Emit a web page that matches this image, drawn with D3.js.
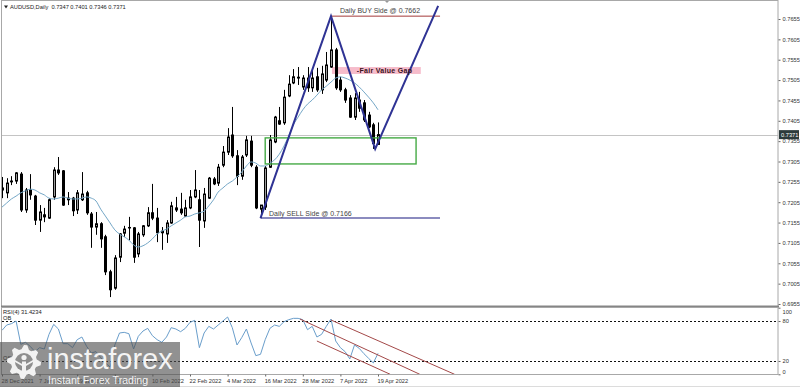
<!DOCTYPE html>
<html>
<head>
<meta charset="utf-8">
<script src="https://cdn.jsdelivr.net/npm/d3@7"></script>
<style>
  body { margin: 0; background: #fff; }
  svg { display: block; }
  text { font-family: "Liberation Sans", Arial, sans-serif; }
</style>
</head>
<body>
<div id="chart"></div>
<script>
// AUDUSD daily candles, 28 Dec 2021 .. 19 Apr 2022
let opens = [0.7240, 0.7228, 0.7257, 0.7257, 0.7274, 0.7186, 0.7235, 0.7220, 0.7161, 0.7174,
  0.7166, 0.7218, 0.7284, 0.7282, 0.7211, 0.7215, 0.7186, 0.7211, 0.7228, 0.7176,
  0.7144, 0.7152, 0.7120, 0.7034, 0.6994, 0.7070, 0.7129, 0.7142, 0.7142, 0.7078,
  0.7125, 0.7147, 0.7179, 0.7166, 0.7134, 0.7127, 0.7154, 0.7191, 0.7188, 0.7171,
  0.7191, 0.7218, 0.7211, 0.7159, 0.7215, 0.7262, 0.7252, 0.7296, 0.7328, 0.7370,
  0.7319, 0.7269, 0.7321, 0.7355, 0.7291, 0.7188, 0.7193, 0.7291, 0.7353, 0.7405,
  0.7400, 0.7466, 0.7498, 0.7510, 0.7488, 0.7510, 0.7486, 0.7513, 0.7481, 0.7505,
  0.7537, 0.7579, 0.7505, 0.7481, 0.7461, 0.7414, 0.7456, 0.7449, 0.7419, 0.7395,
  0.7347]
let highs = [0.7267, 0.7264, 0.7269, 0.7279, 0.7279, 0.7240, 0.7274, 0.7223, 0.7198, 0.7191,
  0.7215, 0.7291, 0.7316, 0.7284, 0.7230, 0.7218, 0.7235, 0.7279, 0.7233, 0.7181,
  0.7181, 0.7156, 0.7125, 0.7039, 0.7075, 0.7129, 0.7147, 0.7169, 0.7144, 0.7132,
  0.7149, 0.7193, 0.7250, 0.7191, 0.7144, 0.7161, 0.7206, 0.7218, 0.7228, 0.7211,
  0.7235, 0.7284, 0.7235, 0.7240, 0.7267, 0.7267, 0.7299, 0.7343, 0.7387, 0.7439,
  0.7333, 0.7321, 0.7368, 0.7368, 0.7296, 0.7198, 0.7294, 0.7370, 0.7417, 0.7439,
  0.7481, 0.7517, 0.7532, 0.7537, 0.7517, 0.7537, 0.7530, 0.7535, 0.7540, 0.7574,
  0.7662, 0.7584, 0.7513, 0.7486, 0.7468, 0.7473, 0.7476, 0.7456, 0.7427, 0.7400,
  0.7401]
let lows = [0.7215, 0.7215, 0.7247, 0.7250, 0.7181, 0.7179, 0.7211, 0.7149, 0.7132, 0.7156,
  0.7164, 0.7211, 0.7272, 0.7196, 0.7198, 0.7171, 0.7176, 0.7208, 0.7174, 0.7093,
  0.7125, 0.7093, 0.7026, 0.6972, 0.6990, 0.7058, 0.7120, 0.7112, 0.7056, 0.7070,
  0.7120, 0.7144, 0.7161, 0.7107, 0.7088, 0.7105, 0.7152, 0.7181, 0.7174, 0.7169,
  0.7188, 0.7215, 0.7095, 0.7142, 0.7213, 0.7247, 0.7245, 0.7291, 0.7321, 0.7314,
  0.7247, 0.7260, 0.7316, 0.7291, 0.7188, 0.7166, 0.7186, 0.7289, 0.7350, 0.7395,
  0.7395, 0.7463, 0.7495, 0.7493, 0.7481, 0.7476, 0.7476, 0.7476, 0.7471, 0.7500,
  0.7535, 0.7481, 0.7476, 0.7449, 0.7412, 0.7407, 0.7427, 0.7402, 0.7387, 0.7336,
  0.7346]
let closes = [0.7235, 0.7252, 0.7255, 0.7277, 0.7186, 0.7235, 0.7223, 0.7161, 0.7181, 0.7169,
  0.7211, 0.7284, 0.7277, 0.7198, 0.7215, 0.7184, 0.7228, 0.7225, 0.7179, 0.7144,
  0.7152, 0.7115, 0.7034, 0.6990, 0.7068, 0.7127, 0.7139, 0.7143, 0.7070, 0.7127,
  0.7147, 0.7179, 0.7166, 0.7130, 0.7130, 0.7154, 0.7196, 0.7186, 0.7179, 0.7191,
  0.7218, 0.7235, 0.7161, 0.7225, 0.7264, 0.7250, 0.7291, 0.7328, 0.7365, 0.7319,
  0.7269, 0.7316, 0.7358, 0.7296, 0.7191, 0.7198, 0.7289, 0.7358, 0.7414, 0.7397,
  0.7463, 0.7495, 0.7513, 0.7512, 0.7510, 0.7486, 0.7510, 0.7481, 0.7520, 0.7542,
  0.7579, 0.7486, 0.7481, 0.7456, 0.7414, 0.7461, 0.7436, 0.7407, 0.7390, 0.7349,
  0.7371]

// moving average line, one value per bar
let maValues = [0.7193, 0.7203, 0.7213, 0.7220, 0.7228, 0.7233, 0.7237, 0.7235, 0.7228, 0.7223,
  0.7215, 0.7213, 0.7215, 0.7218, 0.7215, 0.7213, 0.7213, 0.7215, 0.7218, 0.7215,
  0.7208, 0.7188, 0.7171, 0.7154, 0.7137, 0.7127, 0.7120, 0.7112, 0.7100, 0.7095,
  0.7098, 0.7105, 0.7115, 0.7127, 0.7134, 0.7139, 0.7147, 0.7154, 0.7161, 0.7169,
  0.7171, 0.7176, 0.7179, 0.7183, 0.7196, 0.7211, 0.7230, 0.7240, 0.7250, 0.7257,
  0.7267, 0.7279, 0.7294, 0.7304, 0.7301, 0.7294, 0.7294, 0.7301, 0.7309, 0.7323,
  0.7343, 0.7368, 0.7395, 0.7414, 0.7432, 0.7446, 0.7456, 0.7468, 0.7481, 0.7490,
  0.7500, 0.7510, 0.7513, 0.7510, 0.7505, 0.7498, 0.7488, 0.7476, 0.7463, 0.7449,
  0.7432]

// RSI, one value per bar
let rsiValues = [66, 74, 76, 80, 45, 48, 42, 34, 40, 38,
  60, 75, 68, 46, 46, 40, 52, 56, 42, 32,
  34, 25, 17, 11, 44, 62, 63, 61, 38, 57,
  65, 69, 58, 52, 48, 56, 70, 68, 64, 69,
  78, 81, 40, 62, 72, 68, 74, 80, 86, 70,
  44, 55, 68, 47, 28, 30, 52, 69, 74, 72,
  79, 82, 84, 84, 82, 67, 72, 56, 60, 72,
  83, 50, 40, 34, 23, 44, 39, 31, 24, 17,
  31.4234]

let priceTicks = [0.6955, 0.7005, 0.7055, 0.7105, 0.7155, 0.7205, 0.7255, 0.7305,
  0.7355, 0.7405, 0.7455, 0.7505, 0.7555, 0.7605, 0.7655]
let rsiTicks = [100, 80, 20, 0]
let dateTickIdx = [0, 8, 16, 24, 32, 40, 48, 56, 64, 72, 80]
let dateLabels = ['28 Dec 2021', '7 Jan 2022', '19 Jan 2022', '31 Jan 2022', '10 Feb 2022',
  '22 Feb 2022', '4 Mar 2022', '16 Mar 2022', '28 Mar 2022', '7 Apr 2022', '19 Apr 2022']

// drawn objects: [bar index, price]
let zigzag = [[55, 0.7166], [70, 0.7662], [79.4, 0.7336], [92.8, 0.7687]]
let buyLevel = 0.7662
let sellLevel = 0.7166
let levelEnd = 93.2
let fvgBox = { from: 70.2, to: 89.1, top: 0.7537, bottom: 0.7520 }
let zoneBox = { from: 56, to: 88.1, top: 0.7363, bottom: 0.7299 }
// RSI channel lines: [[idx, rsi], [idx, rsi]]
let channels = [
  [[63.4, 83], [88.9, 0]],
  [[70, 81.5], [96.3, 0]],
  [[67, 50], [82.6, 0]]
]
let lastPrice = 0.7371

let width = 800
let height = 387
let paneRight = 778

let svg = d3.select('#chart').append('svg')
  .attr('width', width)
  .attr('height', height)

let x = d3.scaleLinear().domain([0, 80]).range([2, 378])
let y = d3.scaleLinear().domain([0.6955, 0.7655]).range([304, 19])
let yRsi = d3.scaleLinear().domain([0, 100]).range([374.3, 307.7])

let px = i => Math.round(x(i)) + 0.5

svg.append('defs').append('clipPath').attr('id', 'main-clip')
  .append('rect').attr('x', 2).attr('y', 1).attr('width', paneRight - 2).attr('height', 305)
svg.select('defs').append('clipPath').attr('id', 'rsi-clip')
  .append('rect').attr('x', 2).attr('y', 308).attr('width', paneRight - 2).attr('height', 66)

let main = svg.append('g').attr('clip-path', 'url(#main-clip)')

// current price line
main.append('line')
  .attr('x1', 0).attr('x2', paneRight)
  .attr('y1', Math.round(y(lastPrice)) + 0.5).attr('y2', Math.round(y(lastPrice)) + 0.5)
  .attr('stroke', '#c4c4c4')

// fair value gap
main.append('rect')
  .attr('x', x(fvgBox.from)).attr('width', x(fvgBox.to) - x(fvgBox.from))
  .attr('y', y(fvgBox.top)).attr('height', y(fvgBox.bottom) - y(fvgBox.top))
  .attr('fill', '#f6bccb')

// candles
let bars = d3.range(opens.length)
main.selectAll('.wick')
  .data(bars)
  .enter()
  .append('line')
  .attr('class', 'wick')
  .attr('x1', d => px(d)).attr('x2', d => px(d))
  .attr('y1', d => y(highs[d])).attr('y2', d => y(lows[d]))
  .attr('stroke', '#000')

main.selectAll('.body')
  .data(bars)
  .enter()
  .append('rect')
  .attr('class', 'body')
  .attr('x', d => px(d) - 1)
  .attr('width', 2)
  .attr('y', d => y(Math.max(opens[d], closes[d])))
  .attr('height', d => Math.max(0.5, Math.abs(y(opens[d]) - y(closes[d]))))
  .attr('fill', d => closes[d] >= opens[d] ? '#9b9b9b' : '#000')
  .attr('stroke', '#000')

// moving average
main.append('path')
  .datum(maValues)
  .attr('fill', 'none')
  .attr('stroke', '#74a7c7')
  .attr('stroke-width', 1)
  .attr('d', d3.line().x((d, i) => x(i)).y(d => y(d)).curve(d3.curveMonotoneX))

// demand zone
main.append('rect')
  .attr('x', x(zoneBox.from)).attr('width', x(zoneBox.to) - x(zoneBox.from))
  .attr('y', y(zoneBox.top)).attr('height', y(zoneBox.bottom) - y(zoneBox.top))
  .attr('fill', 'none')
  .attr('stroke', '#45aa45')
  .attr('stroke-width', 1.4)

// buy / sell levels
main.append('line')
  .attr('x1', x(70)).attr('x2', x(levelEnd))
  .attr('y1', y(buyLevel)).attr('y2', y(buyLevel))
  .attr('stroke', '#a33a3a').attr('stroke-width', 1)
main.append('line')
  .attr('x1', x(55)).attr('x2', x(levelEnd))
  .attr('y1', y(sellLevel)).attr('y2', y(sellLevel))
  .attr('stroke', '#6464aa').attr('stroke-width', 1.5)

// zigzag
main.append('path')
  .datum(zigzag)
  .attr('fill', 'none')
  .attr('stroke', '#2f3394')
  .attr('stroke-width', 2)
  .attr('stroke-linejoin', 'miter')
  .attr('d', d3.line().x(d => x(d[0])).y(d => y(d[1])))

main.append('text')
  .text('Daily BUY Side @ ' + buyLevel.toFixed(4))
  .attr('x', x(71.9)).attr('y', y(buyLevel) - 3)
  .attr('font-size', 7).attr('fill', '#444')
main.append('text')
  .text('Daily SELL Side @ ' + sellLevel.toFixed(4))
  .attr('x', x(56.8)).attr('y', y(sellLevel) - 2.5)
  .attr('font-size', 7).attr('fill', '#444')
main.append('text')
  .text('-Fair Value Gap')
  .attr('x', x(75.5)).attr('y', y(fvgBox.bottom) - 1)
  .attr('font-size', 7).attr('font-weight', 'bold')
  .attr('letter-spacing', 0.3)
  .attr('fill', '#3a1422')

// title
svg.append('path')
  .attr('d', 'M4,5.5 L8,5.5 L6,8.5 Z')
  .attr('fill', '#222')
svg.append('text')
  .text('AUDUSD,Daily  ' + [opens[80], highs[80], lows[80], closes[80]].map(d => d.toFixed(4)).join(' '))
  .attr('x', 10).attr('y', 8.5)
  .attr('font-size', 5.7).attr('fill', '#222')
  .attr('xml:space', 'preserve')

// shift marker
svg.append('path')
  .attr('d', 'M384,0 L390,0 L387,3 Z')
  .attr('fill', '#999')

// RSI pane
let rsiG = svg.append('g').attr('clip-path', 'url(#rsi-clip)')

rsiG.selectAll('.level')
  .data([80, 20])
  .enter()
  .append('line')
  .attr('class', 'level')
  .attr('x1', 2).attr('x2', paneRight)
  .attr('y1', d => Math.round(yRsi(d)) + 0.5).attr('y2', d => Math.round(yRsi(d)) + 0.5)
  .attr('stroke', '#111')
  .attr('stroke-dasharray', '2,2')

rsiG.append('path')
  .datum(rsiValues)
  .attr('fill', 'none')
  .attr('stroke', '#6a9ecb')
  .attr('stroke-width', 1)
  .attr('d', d3.line().x((d, i) => x(i)).y(d => yRsi(d)))

rsiG.selectAll('.channel')
  .data(channels)
  .enter()
  .append('line')
  .attr('class', 'channel')
  .attr('x1', d => x(d[0][0])).attr('y1', d => yRsi(d[0][1]))
  .attr('x2', d => x(d[1][0])).attr('y2', d => yRsi(d[1][1]))
  .attr('stroke', '#a34848')
  .attr('stroke-width', 1)

svg.append('text').text('RSI(4) ' + rsiValues[80].toFixed(4))
  .attr('x', 3).attr('y', 314).attr('font-size', 5.7).attr('fill', '#222')
svg.append('text').text('OB')
  .attr('x', 3).attr('y', 319.5).attr('font-size', 5.7).attr('fill', '#222')
svg.append('text').text('OS')
  .attr('x', 3).attr('y', 359.5).attr('font-size', 5.7).attr('fill', '#222')

// borders
svg.append('rect')
  .attr('x', 1.5).attr('y', 0.5).attr('width', paneRight - 1.5).attr('height', 306)
  .attr('fill', 'none').attr('stroke', '#a8a8a8')
svg.append('line')
  .attr('x1', 1).attr('x2', paneRight + 1).attr('y1', 306.5).attr('y2', 306.5)
  .attr('stroke', '#858585').attr('stroke-width', 2)
svg.append('rect')
  .attr('x', 1.5).attr('y', 307.5).attr('width', paneRight - 1.5).attr('height', 67)
  .attr('fill', 'none').attr('stroke', '#a8a8a8')
svg.append('line')
  .attr('x1', 0).attr('x2', width).attr('y1', 386.5).attr('y2', 386.5)
  .attr('stroke', '#dcdcdc')

// price axis
let yAxis = d3.axisRight(y)
  .tickValues(priceTicks)
  .tickSize(2)
  .tickPadding(2)
  .tickFormat(d3.format('.4f'))
svg.append('g')
  .attr('transform', `translate(${paneRight + 0.5},0)`)
  .call(yAxis)
  .call(g => g.select('.domain').remove())
  .call(g => g.selectAll('line').attr('stroke', '#666'))
  .call(g => g.selectAll('text').attr('font-size', 5.7).attr('fill', '#333')
    .attr('font-family', '"Liberation Sans", Arial, sans-serif'))

// last price tag
let tagY = y(lastPrice)
svg.append('rect')
  .attr('x', paneRight + 1).attr('y', tagY - 4.5).attr('width', 20).attr('height', 9)
  .attr('fill', '#2e3b3b')
svg.append('text').text(lastPrice.toFixed(4))
  .attr('x', paneRight + 3).attr('y', tagY + 2)
  .attr('font-size', 5.7).attr('fill', '#fff')

// rsi axis
let rsiAxis = d3.axisRight(yRsi)
  .tickValues(rsiTicks)
  .tickSize(2)
  .tickPadding(2)
svg.append('g')
  .attr('transform', `translate(${paneRight + 0.5},0)`)
  .call(rsiAxis)
  .call(g => g.select('.domain').remove())
  .call(g => g.selectAll('line').attr('stroke', '#666'))
  .call(g => g.selectAll('text').attr('font-size', 5.7).attr('fill', '#333')
    .attr('font-family', '"Liberation Sans", Arial, sans-serif')
    .attr('dy', d => d === 100 ? '1.0em' : d === 0 ? '-0.2em' : '0.32em'))

// date axis
let xAxis = d3.axisBottom(x)
  .tickValues(dateTickIdx)
  .tickSize(2)
  .tickFormat((d, i) => dateLabels[i])
svg.append('g')
  .attr('transform', 'translate(0,374.5)')
  .call(xAxis)
  .call(g => g.select('.domain').remove())
  .call(g => g.selectAll('line').attr('stroke', '#666'))
  .call(g => g.selectAll('text').attr('font-size', 5.7).attr('fill', '#333')
    .attr('text-anchor', 'start').attr('x', -1).attr('y', 4)
    .attr('font-family', '"Liberation Sans", Arial, sans-serif'))

// watermark
let wm = svg.append('g')
wm.append('rect')
  .attr('x', 0).attr('y', 342).attr('width', 180).attr('height', 45)
  .attr('fill', '#4d4d4d').attr('opacity', 0.62)

let gear = wm.append('g').attr('transform', 'translate(24,362)')
let teeth = 8
let gearPts = []
d3.range(teeth * 4).forEach(k => {
  let a = (k / (teeth * 4)) * Math.PI * 2 - Math.PI / 2
  let r = (k % 4 === 0 || k % 4 === 1) ? 17 : 13
  gearPts.push([Math.cos(a) * r, Math.sin(a) * r])
})
gear.append('path')
  .attr('d', d3.line()(gearPts) + 'Z')
  .attr('fill', '#f2f2f2')
gear.append('circle').attr('r', 9).attr('fill', '#8e8e8e')
gear.append('circle').attr('cy', -4.5).attr('r', 2.6).attr('fill', '#f2f2f2')
gear.append('rect').attr('x', -2).attr('y', -0.5).attr('width', 4).attr('height', 14).attr('fill', '#f2f2f2')
gear.append('path').attr('d', 'M-9,-2 L-2,2 L-2,4 L-9,0 Z M9,-2 L2,2 L2,4 L9,0 Z').attr('fill', '#f2f2f2')

wm.append('text').text('instaforex')
  .attr('x', 47).attr('y', 369)
  .attr('font-size', 29).attr('fill', '#f4f4f4')
wm.append('text').text('Instant Forex Trading')
  .attr('x', 48).attr('y', 384)
  .attr('font-size', 10.6).attr('fill', '#f4f4f4')
</script>
</body>
</html>
